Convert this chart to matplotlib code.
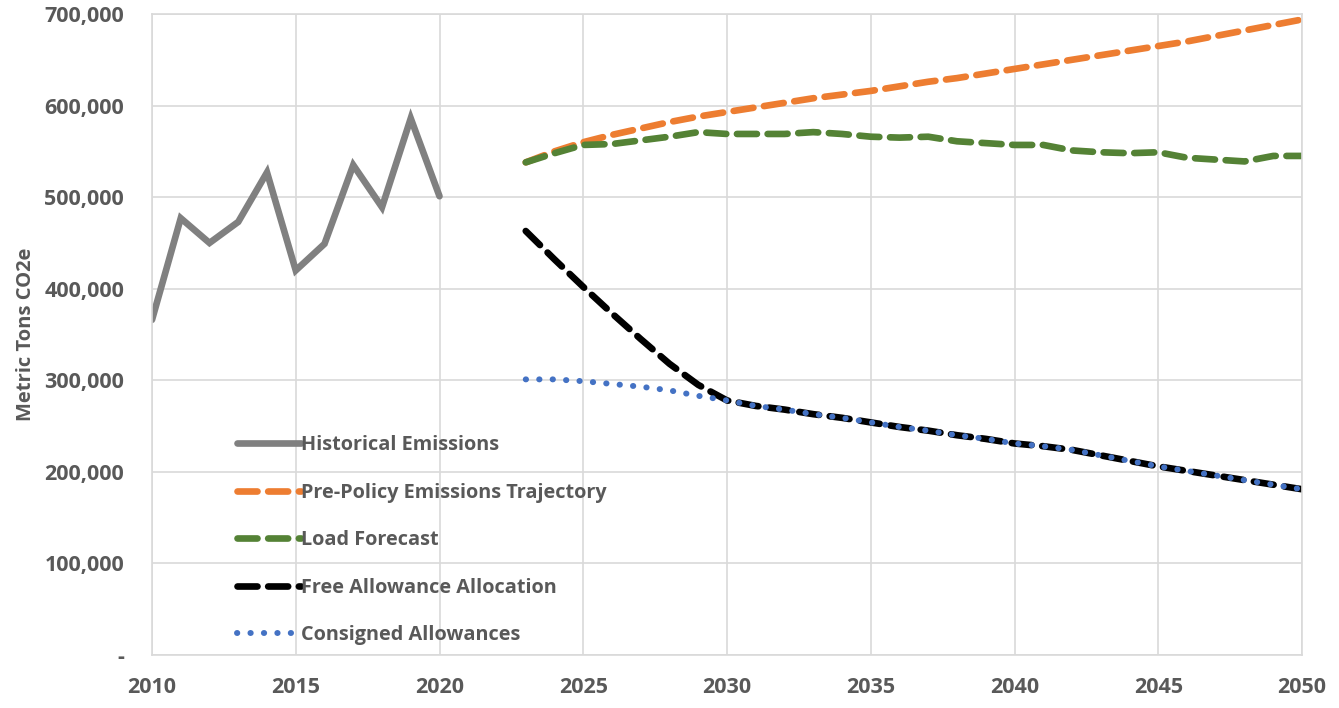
import matplotlib.pyplot as plt
from matplotlib.ticker import FuncFormatter

# values (metric tons CO2e)
hist_years = list(range(2010, 2021))
historical = [366000, 477000, 450000, 473000, 527000, 420000, 449000, 535000, 489000, 586000, 501000]

proj_years = list(range(2023, 2051))
pre_policy = [538000, 550000, 560000, 568000, 575000, 582000, 588000, 593000, 598000, 603000,
              608000, 612000, 616000, 621000, 626000, 630000, 635000, 640000, 645000, 650000,
              655000, 660000, 665000, 670000, 676000, 682000, 688000, 694000]
load_forecast = [538000, 548000, 557000, 558000, 562000, 566000, 571000, 569000, 569000, 569000,
                 571000, 569000, 566000, 565000, 566000, 561000, 559000, 557000, 557000, 551000,
                 549000, 548000, 549000, 543000, 541000, 539000, 545000, 545000]
free_alloc = [463000, 432000, 402000, 373000, 345000, 318000, 295000, 278000, 272000, 268000,
              263000, 259000, 254000, 249000, 245000, 240000, 236000, 231000, 228000, 224000,
              218000, 212000, 206000, 201000, 196000, 191000, 186000, 181000]
consigned = [301000, 301000, 299000, 296000, 293000, 289000, 283000, 278000, 272000, 268000,
             263000, 259000, 254000, 249000, 245000, 240000, 236000, 231000, 228000, 224000,
             218000, 212000, 206000, 201000, 196000, 191000, 186000, 181000]

text_color = "#595959"
grid_color = "#d9d9d9"
plt.rcParams['font.family'] = ['Open Sans', 'DejaVu Sans']
plt.rcParams['font.weight'] = 'bold'

fig = plt.figure(figsize=(13.39, 7.08), dpi=100)
ax = fig.add_axes([152 / 1339, 53 / 708, 1150 / 1339, 641 / 708])

ax.plot(hist_years, historical, color="#808080", lw=4.8, label="Historical Emissions",
        solid_capstyle='round', solid_joinstyle='miter')
ax.plot(proj_years, pre_policy, color="#ed7d31", lw=4.8, ls=(0, (3, 1.6)),
        label="Pre-Policy Emissions Trajectory", dash_capstyle='round')
ax.plot(proj_years, load_forecast, color="#548235", lw=4.8, ls=(0, (3, 1.6)),
        label="Load Forecast", dash_capstyle='round')
ax.plot(proj_years, free_alloc, color="black", lw=4.8, ls=(0, (3, 1.6)),
        label="Free Allowance Allocation", dash_capstyle='round')
ax.plot(proj_years, consigned, color="#4472c4", lw=4.3, ls=(0, (0.05, 2.2)),
        label="Consigned Allowances", dash_capstyle='round')

ax.set_xlim(2010, 2050)
ax.set_ylim(0, 700000)
ax.set_xticks(range(2010, 2051, 5))
ax.set_yticks(range(0, 700001, 100000))
ax.yaxis.set_major_formatter(FuncFormatter(lambda v, p: "-" if v == 0 else f"{int(v):,}"))
ax.grid(True, color=grid_color, lw=1.2)
ax.set_axisbelow(True)
for s in ax.spines.values():
    s.set_color(grid_color)
    s.set_linewidth(1.2)
ax.tick_params(length=0, colors=text_color, labelsize=15.5, pad=16)
ax.tick_params(axis='y', pad=20)
for lab in ax.get_xticklabels() + ax.get_yticklabels():
    lab.set_fontweight('bold')
ax.set_ylabel("Metric Tons CO2e", color=text_color, fontsize=14.5, fontweight='bold', labelpad=6)

leg = ax.legend(loc='lower left', bbox_to_anchor=(0.062, -0.006), frameon=False,
                fontsize=14.3, labelspacing=1.38, handlelength=3.2, handletextpad=0.0,
                borderaxespad=0.3)
for t in leg.get_texts():
    t.set_color(text_color)
    t.set_fontweight('bold')

fig.savefig("out.png", dpi=100)
